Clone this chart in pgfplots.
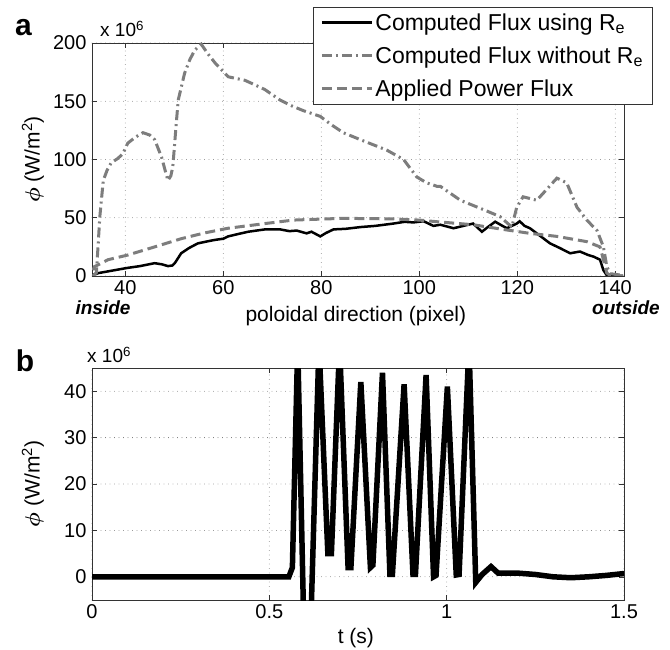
\documentclass[border=0pt]{standalone}
\usepackage{pgfplots}
\pgfplotsset{compat=1.18}
\usepackage{bm}
\usepackage{fontspec}
\setmainfont{Liberation Sans}
\definecolor{lgray}{RGB}{125,125,125}
\pgfplotsset{
  mlab/.style={
    scale only axis,
    axis line style={black!80,line width=0.8pt},
    tick pos=both, tick align=inside,
    major tick length=5pt,
    every tick/.style={black!80,line width=0.6pt},
    grid=major,
    major grid style={black!60,line width=0.8pt,line cap=round,dash pattern=on 0pt off 4.5pt},
    /pgf/number format/assume math mode=true,
    ticklabel style={font=\fontsize{20}{24}\selectfont},
    scaled ticks=false,
    clip=true,
  }
}
\begin{document}
\begin{tikzpicture}
\useasboundingbox (0,0) rectangle (670pt,649pt);
% ---------------- panel a ----------------
\begin{axis}[mlab,
  at={(92pt,373pt)}, anchor=south west,
  width=532pt, height=233pt,
  xmin=33.2, xmax=141.8, ymin=0, ymax=200,
  xtick={40,60,...,140}, ytick={0,50,...,200},
  xticklabel style={yshift=-1pt},
  yticklabel style={xshift=-2pt},
  xlabel={poloidal direction (pixel)},
  ylabel={$\bm{\phi}$ (W/m\textsuperscript{2})},
  every axis x label/.style={at={(axis description cs:0.496,-0.172)},anchor=center,font=\fontsize{21}{25}\selectfont},
  every axis y label/.style={at={(axis description cs:-0.111,0.5)},rotate=90,anchor=center,font=\fontsize{21}{25}\selectfont},
  legend image code/.code={\draw[#1] (0pt,0pt) -- (50pt,0pt);},
  legend style={at={(axis description cs:0.4154,1.1545)},anchor=north west,
    draw=black!80,line width=0.8pt,fill=white,
    font=\fontsize{23}{27}\selectfont,row sep=11pt,inner xsep=7pt,inner ysep=4pt},
  legend cell align=left,
]
\addplot[black,line width=2.5pt] coordinates {
(33.4,1) (34.5,2.5) (36.5,4) (38.5,5.5) (40.5,7) (43,8.5) (46,11) (47.5,10)
(48.7,8.5) (49.6,9) (50.1,11) (51.4,19.5) (53,24) (54.8,28) (56.5,29.5)
(58.3,31) (60,32) (61,34) (63,36) (65.1,38) (68.5,40) (71.6,40) (73.5,38.5)
(75,39) (77,36.6) (78,38) (79.8,34) (81,37) (82.5,40) (85,40.5) (88,42)
(91,43) (94.7,45) (97,46.5) (98.8,46) (100.9,47) (102.9,43) (104.3,44)
(107,41) (109,43) (111,45) (112.8,38) (114,42) (115.5,46.6) (117,43)
(117.9,41) (119.9,45) (120.5,47) (121.5,43) (122.6,41) (124.5,35)
(126.7,28) (128.7,24) (130.8,19.5) (132.8,21) (134.5,18) (135.6,16.6)
(136.9,14) (137.6,5) (138.3,0.5) (141.6,0)};
\addlegendentry{Computed Flux using R\textsubscript{e}}
\addplot[lgray,line width=3pt,dash pattern=on 10pt off 4pt on 2pt off 4pt] coordinates {
(33.4,0) (34.1,3) (34.5,30) (34.8,51) (35.5,82) (36.3,91) (37.1,97) (38.5,101)
(39.5,105) (40.5,114) (42,119) (43.6,123) (45,121) (46,117) (47.4,102)
(48.3,88) (48.7,82) (49.3,86) (49.7,94) (50.1,115) (50.4,131) (50.8,151)
(52.1,174) (53.2,186) (54.2,194) (55.5,199) (56.8,191) (58.3,183) (61,171)
(64.4,168) (66.5,164) (68.5,160) (71.6,151) (74,146) (76.3,142) (79.8,137)
(82,130) (84.5,123) (88,117) (93.4,108) (96.8,100) (99.5,85) (101.5,80)
(103.6,77) (104.3,77) (108.4,65) (113.1,57) (116.5,51) (118.9,42) (119.9,59)
(121.2,68) (124,65) (128.1,84) (130.1,80) (132.2,59) (134.2,48) (136.3,39)
(137.6,25) (138.3,8) (139,2) (141.6,0.5)};
\addlegendentry{Computed Flux without R\textsubscript{e}}
\addplot[lgray,line width=3pt,dash pattern=on 10pt off 5pt] coordinates {
(33.4,5) (33.7,8) (36.5,14) (40.5,18) (46,25) (51.4,32) (56.2,37) (61,41)
(68.5,45) (74.3,48) (84.5,49.5) (94.7,49) (100,48) (103.6,46.6) (111,44)
(117.9,39.5) (122.6,36.6) (128.1,34) (134.2,29.5) (136.9,25) (137.6,14)
(138.3,2.5) (139,0.5) (141.6,0)};
\addlegendentry{Applied Power Flux}
\end{axis}
% ---------------- panel b ----------------
\begin{axis}[mlab,
  at={(92pt,49pt)}, anchor=south west,
  width=532pt, height=232pt,
  xmin=0, xmax=1.5, ymin=-5, ymax=45,
  xtick={0,0.5,1,1.5}, ytick={0,10,...,40},
  xticklabels={0,0.5,1,1.5},
  xticklabel style={yshift=-1pt},
  yticklabel style={xshift=-2pt},
  xlabel={t (s)},
  ylabel={$\bm{\phi}$ (W/m\textsuperscript{2})},
  every axis x label/.style={at={(axis description cs:0.496,-0.164)},anchor=center,font=\fontsize{21}{25}\selectfont},
  every axis y label/.style={at={(axis description cs:-0.111,0.5)},rotate=90,anchor=center,font=\fontsize{21}{25}\selectfont},
]
\addplot[black,line width=5.5pt,line join=miter] coordinates {
(0,0) (0.555,0) (0.565,2) (0.58,50) (0.597,-10) (0.617,-10) (0.64,50)
(0.665,5) (0.675,5) (0.698,50) (0.722,2) (0.73,2) (0.758,42) (0.785,2)
(0.792,2.5) (0.819,44) (0.840,0.5) (0.847,0.5) (0.880,41.5) (0.905,0.5)
(0.912,0.5) (0.942,43.5) (0.963,0) (0.970,0.3) (1.002,41) (1.027,0.4)
(1.035,0.5) (1.063,50) (1.082,-1.2) (1.10,0.5) (1.125,2.2) (1.145,0.8)
(1.2,0.8) (1.25,0.5) (1.30,0) (1.35,-0.2) (1.40,0) (1.45,0.3) (1.5,0.7)};
\end{axis}
% ---------------- annotations ----------------
\node[font=\fontsize{30}{34}\selectfont\bfseries] at (23.5pt,621pt) {a};
\node[font=\fontsize{30}{34}\selectfont\bfseries] at (25pt,288pt) {b};
\node[font=\fontsize{19}{22}\selectfont,anchor=base west,inner sep=0pt] at (100pt,612pt) {x 10\textsuperscript{6}};
\node[font=\fontsize{19}{22}\selectfont,anchor=base west,inner sep=0pt] at (87pt,286pt) {x 10\textsuperscript{6}};
\node[font=\fontsize{19}{22}\selectfont\bfseries\itshape,inner sep=1pt] at (103pt,341pt) {inside};
\node[font=\fontsize{19}{22}\selectfont\bfseries\itshape,inner sep=1pt] at (626pt,341pt) {outside};
\end{tikzpicture}
\end{document}
